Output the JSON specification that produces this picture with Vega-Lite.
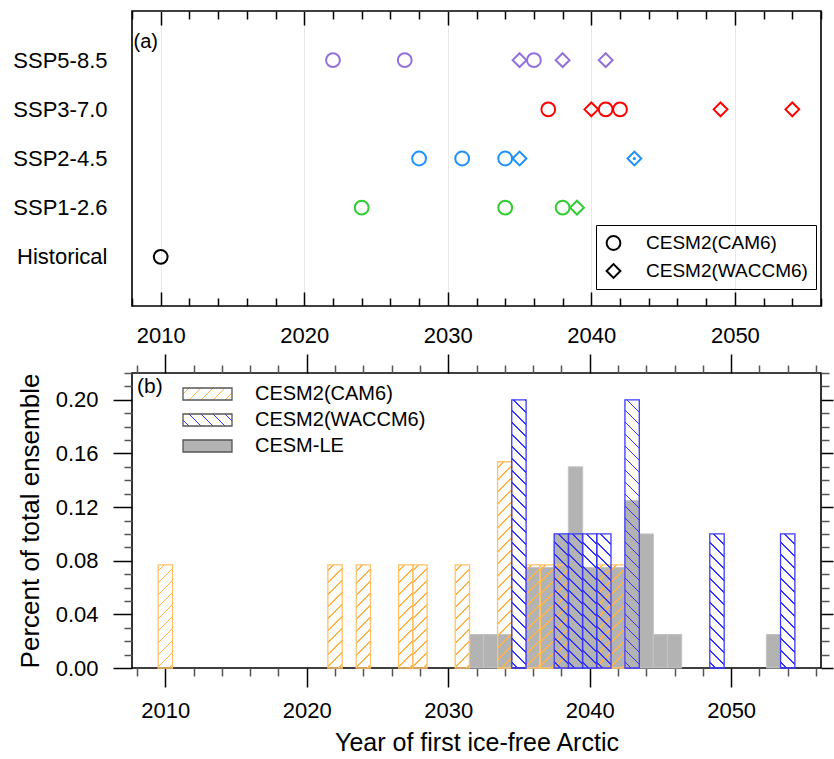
{
"$schema": "https://vega.github.io/schema/vega-lite/v6.json",
"background": "white",
"padding": {"left": 12, "top": 9, "right": 0, "bottom": 0},
"spacing": 5,
"params": [
{"name": "orangeStops", "value": [
{"offset":0,"color":"#fff0"},
{"offset":0.021,"color":"#fff0"},{"offset":0.021,"color":"#FFB347"},{"offset":0.029,"color":"#FFB347"},{"offset":0.029,"color":"#fff0"},
{"offset":0.071,"color":"#fff0"},{"offset":0.071,"color":"#FFB347"},{"offset":0.079,"color":"#FFB347"},{"offset":0.079,"color":"#fff0"},
{"offset":0.121,"color":"#fff0"},{"offset":0.121,"color":"#FFB347"},{"offset":0.129,"color":"#FFB347"},{"offset":0.129,"color":"#fff0"},
{"offset":0.171,"color":"#fff0"},{"offset":0.171,"color":"#FFB347"},{"offset":0.179,"color":"#FFB347"},{"offset":0.179,"color":"#fff0"},
{"offset":0.221,"color":"#fff0"},{"offset":0.221,"color":"#FFB347"},{"offset":0.229,"color":"#FFB347"},{"offset":0.229,"color":"#fff0"},
{"offset":0.271,"color":"#fff0"},{"offset":0.271,"color":"#FFB347"},{"offset":0.279,"color":"#FFB347"},{"offset":0.279,"color":"#fff0"},
{"offset":0.321,"color":"#fff0"},{"offset":0.321,"color":"#FFB347"},{"offset":0.329,"color":"#FFB347"},{"offset":0.329,"color":"#fff0"},
{"offset":0.371,"color":"#fff0"},{"offset":0.371,"color":"#FFB347"},{"offset":0.379,"color":"#FFB347"},{"offset":0.379,"color":"#fff0"},
{"offset":0.421,"color":"#fff0"},{"offset":0.421,"color":"#FFB347"},{"offset":0.429,"color":"#FFB347"},{"offset":0.429,"color":"#fff0"},
{"offset":0.471,"color":"#fff0"},{"offset":0.471,"color":"#FFB347"},{"offset":0.479,"color":"#FFB347"},{"offset":0.479,"color":"#fff0"},
{"offset":0.521,"color":"#fff0"},{"offset":0.521,"color":"#FFB347"},{"offset":0.529,"color":"#FFB347"},{"offset":0.529,"color":"#fff0"},
{"offset":0.571,"color":"#fff0"},{"offset":0.571,"color":"#FFB347"},{"offset":0.579,"color":"#FFB347"},{"offset":0.579,"color":"#fff0"},
{"offset":0.621,"color":"#fff0"},{"offset":0.621,"color":"#FFB347"},{"offset":0.629,"color":"#FFB347"},{"offset":0.629,"color":"#fff0"},
{"offset":0.671,"color":"#fff0"},{"offset":0.671,"color":"#FFB347"},{"offset":0.679,"color":"#FFB347"},{"offset":0.679,"color":"#fff0"},
{"offset":0.721,"color":"#fff0"},{"offset":0.721,"color":"#FFB347"},{"offset":0.729,"color":"#FFB347"},{"offset":0.729,"color":"#fff0"},
{"offset":0.771,"color":"#fff0"},{"offset":0.771,"color":"#FFB347"},{"offset":0.779,"color":"#FFB347"},{"offset":0.779,"color":"#fff0"},
{"offset":0.821,"color":"#fff0"},{"offset":0.821,"color":"#FFB347"},{"offset":0.829,"color":"#FFB347"},{"offset":0.829,"color":"#fff0"},
{"offset":0.871,"color":"#fff0"},{"offset":0.871,"color":"#FFB347"},{"offset":0.879,"color":"#FFB347"},{"offset":0.879,"color":"#fff0"},
{"offset":0.921,"color":"#fff0"},{"offset":0.921,"color":"#FFB347"},{"offset":0.929,"color":"#FFB347"},{"offset":0.929,"color":"#fff0"},
{"offset":0.971,"color":"#fff0"},{"offset":0.971,"color":"#FFB347"},{"offset":0.979,"color":"#FFB347"},{"offset":0.979,"color":"#fff0"},
{"offset":1,"color":"#fff0"}
]},
{"name": "blueStops", "value": [
{"offset":0,"color":"#fff0"},
{"offset":0.017,"color":"#fff0"},{"offset":0.017,"color":"#3434FF"},{"offset":0.023,"color":"#3434FF"},{"offset":0.023,"color":"#fff0"},
{"offset":0.057,"color":"#fff0"},{"offset":0.057,"color":"#3434FF"},{"offset":0.063,"color":"#3434FF"},{"offset":0.063,"color":"#fff0"},
{"offset":0.097,"color":"#fff0"},{"offset":0.097,"color":"#3434FF"},{"offset":0.103,"color":"#3434FF"},{"offset":0.103,"color":"#fff0"},
{"offset":0.137,"color":"#fff0"},{"offset":0.137,"color":"#3434FF"},{"offset":0.143,"color":"#3434FF"},{"offset":0.143,"color":"#fff0"},
{"offset":0.177,"color":"#fff0"},{"offset":0.177,"color":"#3434FF"},{"offset":0.183,"color":"#3434FF"},{"offset":0.183,"color":"#fff0"},
{"offset":0.217,"color":"#fff0"},{"offset":0.217,"color":"#3434FF"},{"offset":0.223,"color":"#3434FF"},{"offset":0.223,"color":"#fff0"},
{"offset":0.257,"color":"#fff0"},{"offset":0.257,"color":"#3434FF"},{"offset":0.263,"color":"#3434FF"},{"offset":0.263,"color":"#fff0"},
{"offset":0.297,"color":"#fff0"},{"offset":0.297,"color":"#3434FF"},{"offset":0.303,"color":"#3434FF"},{"offset":0.303,"color":"#fff0"},
{"offset":0.337,"color":"#fff0"},{"offset":0.337,"color":"#3434FF"},{"offset":0.343,"color":"#3434FF"},{"offset":0.343,"color":"#fff0"},
{"offset":0.377,"color":"#fff0"},{"offset":0.377,"color":"#3434FF"},{"offset":0.383,"color":"#3434FF"},{"offset":0.383,"color":"#fff0"},
{"offset":0.417,"color":"#fff0"},{"offset":0.417,"color":"#3434FF"},{"offset":0.423,"color":"#3434FF"},{"offset":0.423,"color":"#fff0"},
{"offset":0.457,"color":"#fff0"},{"offset":0.457,"color":"#3434FF"},{"offset":0.463,"color":"#3434FF"},{"offset":0.463,"color":"#fff0"},
{"offset":0.497,"color":"#fff0"},{"offset":0.497,"color":"#3434FF"},{"offset":0.503,"color":"#3434FF"},{"offset":0.503,"color":"#fff0"},
{"offset":0.537,"color":"#fff0"},{"offset":0.537,"color":"#3434FF"},{"offset":0.543,"color":"#3434FF"},{"offset":0.543,"color":"#fff0"},
{"offset":0.577,"color":"#fff0"},{"offset":0.577,"color":"#3434FF"},{"offset":0.583,"color":"#3434FF"},{"offset":0.583,"color":"#fff0"},
{"offset":0.617,"color":"#fff0"},{"offset":0.617,"color":"#3434FF"},{"offset":0.623,"color":"#3434FF"},{"offset":0.623,"color":"#fff0"},
{"offset":0.657,"color":"#fff0"},{"offset":0.657,"color":"#3434FF"},{"offset":0.663,"color":"#3434FF"},{"offset":0.663,"color":"#fff0"},
{"offset":0.697,"color":"#fff0"},{"offset":0.697,"color":"#3434FF"},{"offset":0.703,"color":"#3434FF"},{"offset":0.703,"color":"#fff0"},
{"offset":0.737,"color":"#fff0"},{"offset":0.737,"color":"#3434FF"},{"offset":0.743,"color":"#3434FF"},{"offset":0.743,"color":"#fff0"},
{"offset":0.777,"color":"#fff0"},{"offset":0.777,"color":"#3434FF"},{"offset":0.783,"color":"#3434FF"},{"offset":0.783,"color":"#fff0"},
{"offset":0.817,"color":"#fff0"},{"offset":0.817,"color":"#3434FF"},{"offset":0.823,"color":"#3434FF"},{"offset":0.823,"color":"#fff0"},
{"offset":0.857,"color":"#fff0"},{"offset":0.857,"color":"#3434FF"},{"offset":0.863,"color":"#3434FF"},{"offset":0.863,"color":"#fff0"},
{"offset":0.897,"color":"#fff0"},{"offset":0.897,"color":"#3434FF"},{"offset":0.903,"color":"#3434FF"},{"offset":0.903,"color":"#fff0"},
{"offset":0.937,"color":"#fff0"},{"offset":0.937,"color":"#3434FF"},{"offset":0.943,"color":"#3434FF"},{"offset":0.943,"color":"#fff0"},
{"offset":0.977,"color":"#fff0"},{"offset":0.977,"color":"#3434FF"},{"offset":0.983,"color":"#3434FF"},{"offset":0.983,"color":"#fff0"},
{"offset":1,"color":"#fff0"}
]},
{"name": "gradCamA", "expr": "{gradient: 'linear', x1: 0, y1: 0, x2: 0.3177, y2: 2.2833, stops: orangeStops}"},
{"name": "gradCamB", "expr": "{gradient: 'linear', x1: 0, y1: 0, x2: 0.0806, y2: 1.1581, stops: orangeStops}"},
{"name": "gradWacC", "expr": "{gradient: 'linear', x1: 0, y1: 1, x2: 0.2367, y2: -1.212, stops: blueStops}"},
{"name": "gradWacD", "expr": "{gradient: 'linear', x1: 0, y1: 1, x2: 0.0597, y2: -0.1155, stops: blueStops}"},
{"name": "gradLegCam", "expr": "{gradient: 'linear', x1: 0, y1: 0, x2: 4.6208, y2: 1.1316, stops: orangeStops}"},
{"name": "gradLegWac", "expr": "{gradient: 'linear', x1: 0, y1: 1, x2: 5.776, y2: -0.41454, stops: blueStops}"}
],
"datasets": {
"points": [
{"scenario":"SSP5-8.5","model":"CESM2(CAM6)","year":2022,"n":1},
{"scenario":"SSP5-8.5","model":"CESM2(CAM6)","year":2027,"n":1},
{"scenario":"SSP5-8.5","model":"CESM2(CAM6)","year":2036,"n":1},
{"scenario":"SSP5-8.5","model":"CESM2(WACCM6)","year":2035,"n":1},
{"scenario":"SSP5-8.5","model":"CESM2(WACCM6)","year":2038,"n":1},
{"scenario":"SSP5-8.5","model":"CESM2(WACCM6)","year":2041,"n":1},
{"scenario":"SSP3-7.0","model":"CESM2(CAM6)","year":2037,"n":1},
{"scenario":"SSP3-7.0","model":"CESM2(CAM6)","year":2041,"n":1},
{"scenario":"SSP3-7.0","model":"CESM2(CAM6)","year":2042,"n":1},
{"scenario":"SSP3-7.0","model":"CESM2(WACCM6)","year":2040,"n":1},
{"scenario":"SSP3-7.0","model":"CESM2(WACCM6)","year":2049,"n":1},
{"scenario":"SSP3-7.0","model":"CESM2(WACCM6)","year":2054,"n":1},
{"scenario":"SSP2-4.5","model":"CESM2(CAM6)","year":2028,"n":1},
{"scenario":"SSP2-4.5","model":"CESM2(CAM6)","year":2031,"n":1},
{"scenario":"SSP2-4.5","model":"CESM2(CAM6)","year":2034,"n":1},
{"scenario":"SSP2-4.5","model":"CESM2(WACCM6)","year":2035,"n":1},
{"scenario":"SSP2-4.5","model":"CESM2(WACCM6)","year":2043,"n":2},
{"scenario":"SSP1-2.6","model":"CESM2(CAM6)","year":2024,"n":1},
{"scenario":"SSP1-2.6","model":"CESM2(CAM6)","year":2034,"n":1},
{"scenario":"SSP1-2.6","model":"CESM2(CAM6)","year":2038,"n":1},
{"scenario":"SSP1-2.6","model":"CESM2(WACCM6)","year":2039,"n":1},
{"scenario":"Historical","model":"CESM2(CAM6)","year":2010,"n":1}
],
"hist": [
{"model":"CESM-LE","year":2032,"frac":0.025},
{"model":"CESM-LE","year":2033,"frac":0.025},
{"model":"CESM-LE","year":2034,"frac":0.025},
{"model":"CESM-LE","year":2036,"frac":0.075},
{"model":"CESM-LE","year":2037,"frac":0.075},
{"model":"CESM-LE","year":2038,"frac":0.1},
{"model":"CESM-LE","year":2039,"frac":0.15},
{"model":"CESM-LE","year":2040,"frac":0.075},
{"model":"CESM-LE","year":2041,"frac":0.075},
{"model":"CESM-LE","year":2042,"frac":0.075},
{"model":"CESM-LE","year":2043,"frac":0.125},
{"model":"CESM-LE","year":2044,"frac":0.1},
{"model":"CESM-LE","year":2045,"frac":0.025},
{"model":"CESM-LE","year":2046,"frac":0.025},
{"model":"CESM-LE","year":2053,"frac":0.025},
{"model":"CESM2(CAM6)","year":2010,"frac":0.0769},
{"model":"CESM2(CAM6)","year":2022,"frac":0.0769},
{"model":"CESM2(CAM6)","year":2024,"frac":0.0769},
{"model":"CESM2(CAM6)","year":2027,"frac":0.0769},
{"model":"CESM2(CAM6)","year":2028,"frac":0.0769},
{"model":"CESM2(CAM6)","year":2031,"frac":0.0769},
{"model":"CESM2(CAM6)","year":2034,"frac":0.1538},
{"model":"CESM2(CAM6)","year":2036,"frac":0.0769},
{"model":"CESM2(CAM6)","year":2037,"frac":0.0769},
{"model":"CESM2(CAM6)","year":2038,"frac":0.0769},
{"model":"CESM2(CAM6)","year":2041,"frac":0.0769},
{"model":"CESM2(CAM6)","year":2042,"frac":0.0769},
{"model":"CESM2(WACCM6)","year":2035,"frac":0.2},
{"model":"CESM2(WACCM6)","year":2038,"frac":0.1},
{"model":"CESM2(WACCM6)","year":2039,"frac":0.1},
{"model":"CESM2(WACCM6)","year":2040,"frac":0.1},
{"model":"CESM2(WACCM6)","year":2041,"frac":0.1},
{"model":"CESM2(WACCM6)","year":2043,"frac":0.2},
{"model":"CESM2(WACCM6)","year":2049,"frac":0.1},
{"model":"CESM2(WACCM6)","year":2054,"frac":0.1}
]
},
"vconcat": [
{
"width": 689, "height": 295,
"title": {"text": "(a)", "anchor": "start", "frame": "group", "offset": -52, "baseline": "middle", "dx": 1.5, "fontSize": 20, "fontWeight": "normal", "font": "Liberation Sans", "color": "black"},
"layer": [
{
"data": {"name": "points"},
"mark": {"type": "point", "filled": false, "strokeWidth": 2, "size": 190, "opacity": 1},
"encoding": {
"x": {"field": "year", "type": "quantitative", "scale": {"domain": [2008, 2056], "nice": false, "zero": false},
 "axis": {"orient": "bottom", "values": [2010, 2020, 2030, 2040, 2050], "format": "d", "tickSize": -14, "labelPadding": 33, "title": null, "grid": true, "gridColor": "#e8e8e8", "gridWidth": 1}},
"y": {"field": "scenario", "type": "nominal", "sort": ["SSP5-8.5","SSP3-7.0","SSP2-4.5","SSP1-2.6","Historical"],
 "scale": {"type": "point", "padding": 1, "domain": ["SSP5-8.5","SSP3-7.0","SSP2-4.5","SSP1-2.6","Historical"]},
 "axis": {"title": null, "ticks": false, "labelPadding": 25, "labelFontSize": 22}},
"color": {"field": "scenario", "type": "nominal",
 "scale": {"domain": ["SSP5-8.5","SSP3-7.0","SSP2-4.5","SSP1-2.6","Historical"], "range": ["#9370DB","#FF0000","#1E90FF","#32CD32","#000000"]}, "legend": null},
"shape": {"field": "model", "type": "nominal",
 "scale": {"domain": ["CESM2(CAM6)","CESM2(WACCM6)"], "range": ["circle","diamond"]},
 "legend": {"orient": "none", "legendX": 464, "legendY": 214, "title": null, "padding": 8, "strokeColor": "black",
  "symbolSize": 190, "symbolStrokeWidth": 2, "symbolStrokeColor": "black", "symbolFillColor": "transparent",
  "labelFontSize": 19, "labelOffset": 23, "labelLimit": 400, "clipHeight": 20, "rowPadding": 8, "labelFont": "Liberation Sans", "labelColor": "black"}}
}
},
{
"data": {"name": "points"},
"transform": [{"filter": "datum.n == 2"}],
"mark": {"type": "point", "filled": true, "size": 10, "opacity": 1},
"encoding": {
"x": {"field": "year", "type": "quantitative", "scale": {"domain": [2008, 2056], "nice": false, "zero": false},
 "axis": {"orient": "bottom", "values": [2008,2012,2014,2016,2018,2022,2024,2026,2028,2032,2034,2036,2038,2042,2044,2046,2048,2052,2054,2056], "tickSize": -8, "labels": false, "title": null, "grid": false}},
"y": {"field": "scenario", "type": "nominal", "sort": ["SSP5-8.5","SSP3-7.0","SSP2-4.5","SSP1-2.6","Historical"], "axis": null},
"color": {"field": "scenario", "type": "nominal", "legend": null}
}
},
{
"data": {"name": "points"},
"mark": {"type": "point", "opacity": 0},
"encoding": {
"x": {"field": "year", "type": "quantitative", "scale": {"domain": [2008, 2056], "nice": false, "zero": false},
 "axis": {"orient": "top", "values": [2010, 2020, 2030, 2040, 2050], "tickSize": -14, "labels": false, "title": null, "grid": false}},
"y": {"field": "scenario", "type": "nominal", "sort": ["SSP5-8.5","SSP3-7.0","SSP2-4.5","SSP1-2.6","Historical"], "axis": null}
}
},
{
"data": {"name": "points"},
"mark": {"type": "point", "opacity": 0},
"encoding": {
"x": {"field": "year", "type": "quantitative", "scale": {"domain": [2008, 2056], "nice": false, "zero": false},
 "axis": {"orient": "top", "values": [2008,2012,2014,2016,2018,2022,2024,2026,2028,2032,2034,2036,2038,2042,2044,2046,2048,2052,2054,2056], "tickSize": -8, "labels": false, "title": null, "grid": false}},
"y": {"field": "scenario", "type": "nominal", "sort": ["SSP5-8.5","SSP3-7.0","SSP2-4.5","SSP1-2.6","Historical"], "axis": null}
}
}
],
"resolve": {"axis": {"x": "independent", "y": "independent"}}
},
{
"width": 689, "height": 295,
"title": {"text": "(b)", "anchor": "start", "frame": "group", "offset": -55, "baseline": "middle", "dx": 5, "fontSize": 21, "fontWeight": "normal", "font": "Liberation Sans", "color": "black"},
"layer": [
{
"data": {"name": "hist"},
"transform": [{"filter": "datum.model == 'CESM-LE'"}],
"mark": {"type": "bar", "width": 14.35, "orient": "vertical", "stroke": "#C4C4C4", "strokeWidth": 1},
"encoding": {
"x": {"field": "year", "type": "quantitative", "scale": {"domain": [2008, 2056], "nice": false, "zero": false},
 "axis": {"orient": "bottom", "values": [2010, 2020, 2030, 2040, 2050], "format": "d", "tickSize": 19, "labelPadding": 13, "title": "Year of first ice-free Arctic", "titleFontSize": 25, "titlePadding": 9, "grid": false}},
"y": {"field": "frac", "type": "quantitative", "stack": null, "scale": {"domain": [0, 0.22], "nice": false, "zero": true},
 "axis": {"orient": "left", "values": [0, 0.04, 0.08, 0.12, 0.16, 0.2], "format": ".2f", "tickSize": 19, "labelPadding": 15, "title": "Percent of total ensemble", "titlePadding": 12, "grid": false}},
"fill": {"field": "model", "type": "nominal",
 "scale": {"domain": ["CESM2(CAM6)","CESM2(WACCM6)","CESM-LE"],
  "range": [{"expr": "gradLegCam"}, {"expr": "gradLegWac"}, "#B3B3B3"]},
 "legend": {"orient": "none", "legendX": 50, "legendY": 370, "title": null, "padding": 0,
  "symbolType": "M-1,-0.245H1V0.245H-1Z", "symbolSize": 2401, "clipHeight": 26, "rowPadding": 0,
  "labelFontSize": 20, "labelOffset": 22, "labelLimit": 400, "labelFont": "Liberation Sans", "labelColor": "black",
  "symbolStrokeWidth": 1.3, "symbolStrokeColor": "#555555", "symbolOpacity": 1}}
}
},
{
"data": {"name": "hist"},
"transform": [{"filter": "datum.model == 'CESM2(CAM6)' && datum.frac < 0.1"}],
"mark": {"type": "bar", "width": 14.35, "orient": "vertical", "stroke": "#FFC266", "strokeWidth": 1.3, "fill": {"expr": "gradCamA"}},
"encoding": {
"x": {"field": "year", "type": "quantitative", "scale": {"domain": [2008, 2056], "nice": false, "zero": false},
 "axis": {"orient": "bottom", "values": [2008,2012,2014,2016,2018,2022,2024,2026,2028,2032,2034,2036,2038,2042,2044,2046,2048,2052,2054,2056], "tickSize": 8, "labels": false, "title": null, "grid": false, "tickColor": "#555555"}},
"y": {"field": "frac", "type": "quantitative", "stack": null, "scale": {"domain": [0, 0.22], "nice": false},
 "axis": {"orient": "left", "values": [0.01,0.02,0.03,0.05,0.06,0.07,0.09,0.1,0.11,0.13,0.14,0.15,0.17,0.18,0.19,0.21,0.22], "tickSize": 8, "labels": false, "title": null, "grid": false, "tickColor": "#555555"}}
}
},
{
"data": {"name": "hist"},
"transform": [{"filter": "datum.model == 'CESM2(CAM6)' && datum.frac > 0.1"}],
"mark": {"type": "bar", "width": 14.35, "orient": "vertical", "stroke": "#FFC266", "strokeWidth": 1.3, "fill": {"expr": "gradCamB"}},
"encoding": {
"x": {"field": "year", "type": "quantitative", "scale": {"domain": [2008, 2056], "nice": false, "zero": false},
 "axis": {"orient": "top", "values": [2010, 2020, 2030, 2040, 2050], "tickSize": 19, "labels": false, "title": null, "grid": false}},
"y": {"field": "frac", "type": "quantitative", "stack": null, "scale": {"domain": [0, 0.22], "nice": false},
 "axis": {"orient": "right", "values": [0, 0.04, 0.08, 0.12, 0.16, 0.2], "tickSize": 12, "labels": false, "title": null, "grid": false}}
}
},
{
"data": {"name": "hist"},
"transform": [{"filter": "datum.model == 'CESM2(WACCM6)' && datum.frac < 0.15"}],
"mark": {"type": "bar", "width": 14.35, "orient": "vertical", "stroke": "#3A3AFF", "strokeWidth": 1.3, "fill": {"expr": "gradWacC"}},
"encoding": {
"x": {"field": "year", "type": "quantitative", "scale": {"domain": [2008, 2056], "nice": false, "zero": false},
 "axis": {"orient": "top", "values": [2008,2012,2014,2016,2018,2022,2024,2026,2028,2032,2034,2036,2038,2042,2044,2046,2048,2052,2054,2056], "tickSize": 8, "labels": false, "title": null, "grid": false, "tickColor": "#555555"}},
"y": {"field": "frac", "type": "quantitative", "stack": null, "scale": {"domain": [0, 0.22], "nice": false},
 "axis": {"orient": "right", "values": [0.01,0.02,0.03,0.05,0.06,0.07,0.09,0.1,0.11,0.13,0.14,0.15,0.17,0.18,0.19,0.21,0.22], "tickSize": 8, "labels": false, "title": null, "grid": false, "tickColor": "#555555"}}
}
},
{
"data": {"name": "hist"},
"transform": [{"filter": "datum.model == 'CESM2(WACCM6)' && datum.frac > 0.15"}],
"mark": {"type": "bar", "width": 14.35, "orient": "vertical", "stroke": "#3A3AFF", "strokeWidth": 1.3, "fill": {"expr": "gradWacD"}},
"encoding": {
"x": {"field": "year", "type": "quantitative", "scale": {"domain": [2008, 2056], "nice": false, "zero": false}, "axis": null},
"y": {"field": "frac", "type": "quantitative", "stack": null, "scale": {"domain": [0, 0.22], "nice": false}, "axis": null}
}
}
],
"resolve": {"axis": {"x": "independent", "y": "independent"}}
}
],
"config": {
"font": "Liberation Sans",
"view": {"stroke": "black", "strokeWidth": 1.6},
"axis": {"domain": false, "grid": false, "labelFont": "Liberation Sans", "titleFont": "Liberation Sans", "labelColor": "black", "titleColor": "black", "tickColor": "black", "tickWidth": 1.5, "labelFontSize": 22, "titleFontSize": 26, "titleFontWeight": "normal"},
"legend": {"labelFont": "Liberation Sans", "labelColor": "black"}
}
}
